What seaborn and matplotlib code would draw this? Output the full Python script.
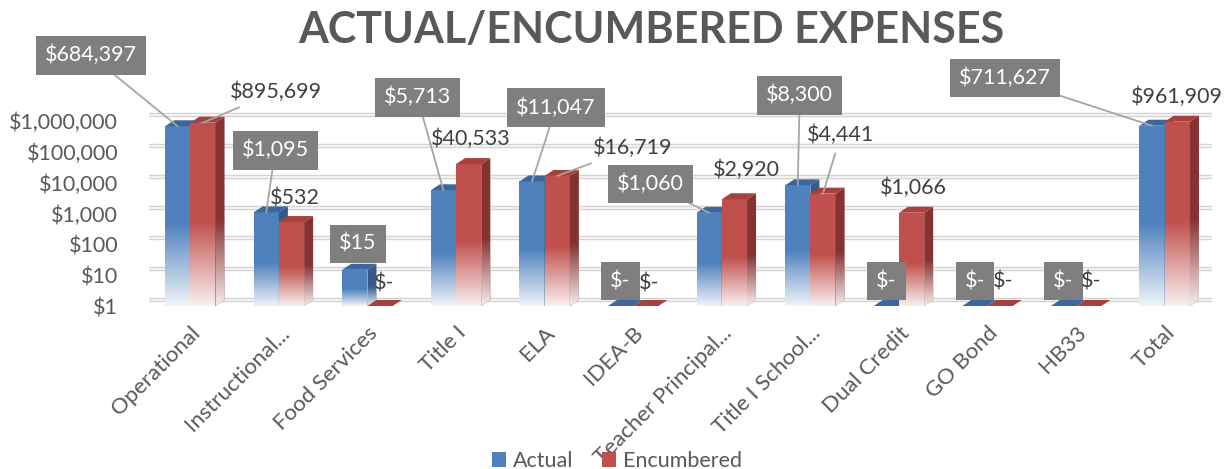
import numpy as np
import pandas as pd
import matplotlib
matplotlib.use("Agg")
import matplotlib.pyplot as plt
import seaborn as sns
from matplotlib.patches import Polygon, Patch
from matplotlib.transforms import IdentityTransform, offset_copy
import matplotlib.patheffects as pe

# ---------------- data ----------------
categories = ["Operational", "Instructional...", "Food Services", "Title I", "ELA", "IDEA-B",
              "Teacher Principal...", "Title I School...", "Dual Credit", "GO Bond", "HB33", "Total"]
series = ["Actual", "Encumbered"]
actual = [684397, 1095, 15, 5713, 11047, 0, 1060, 8300, 0, 0, 0, 711627]
encumbered = [895699, 532, 0, 40533, 16719, 0, 2920, 4441, 1066, 0, 0, 961909]
y_ticks = [1, 10, 100, 1000, 10000, 100000, 1000000]
y_tick_labels = ["$1", "$10", "$100", "$1,000", "$10,000", "$100,000", "$1,000,000"]
title = "ACTUAL/ENCUMBERED EXPENSES"

# ---------------- layout / style ----------------
blue, red = "#4F81BD", "#C0504D"
blue_top, red_top = "#3B679C", "#A8413E"
blue_side, red_side = "#34598A", "#853230"
text_grey = "#595959"
label_dark = "#404040"
box_grey = "#7F7F7F"
leader_col = "#A6A6A6"
DX, DY = 9, 6  # 3-D depth in pixels

# label offsets from bar top (pixels, x right / y up) and leader-line flags
actual_offsets = [(-87, 71), (9, 62), (3, 26), (-26, 93), (24, 74), (0, 25),
                  (-59, 29), (2, 90), (0, 25), (0, 25), (0, 25), (-147, 48)]
actual_leader = [True, True, False, True, True, False, True, True, False, False, False, True]
enc_offsets = [(73, 31), (3, 24), (4, 23), (2, 25), (75, 28), (3, 23),
               (12, 29), (18, 59), (2, 25), (3, 25), (2, 25), (0, 25)]
enc_leader = [True, False, False, False, True, False, False, True, False, False, False, False]

sns.set_theme(style="white")
plt.rcParams["font.family"] = ["Lato", "DejaVu Sans"]

W, H, DPI = 1230, 469, 100
fig = plt.figure(figsize=(W / DPI, H / DPI), dpi=DPI)
ax_left, ax_right, ax_top, ax_bottom = 146, 1209, 40, 306
ax = fig.add_axes([ax_left / W, 1 - ax_bottom / H, (ax_right - ax_left) / W, (ax_bottom - ax_top) / H])

df = pd.DataFrame({
    "category": categories * 2,
    "series": [series[0]] * len(categories) + [series[1]] * len(categories),
    "value": actual + encumbered,
})

sns.barplot(data=df, x="category", y="value", hue="series", order=categories,
            hue_order=series, palette=[blue, red], width=0.57, errorbar=None,
            saturation=1, legend=False, ax=ax, linewidth=0)

ax.set_yscale("log")
decades = (ax_bottom - ax_top) / 30.8
ylim = (1, 10 ** decades)
xlim = (-0.5, len(categories) - 0.5)
ax.set_ylim(*ylim)
ax.set_xlim(*xlim)
ax.minorticks_off()

for s in ax.spines.values():
    s.set_visible(False)

# gridlines on back wall (offset by depth)
grid_tr = offset_copy(ax.get_yaxis_transform(), fig=fig, x=DX * 0.3, y=DY, units="dots")
for t in y_ticks:
    ax.plot([0.0, 1.0], [t, t], transform=grid_tr, color="#D4D4D4", lw=3.2, zorder=0.5,
            solid_capstyle="butt", clip_on=False,
            path_effects=[pe.Stroke(linewidth=3.2, foreground="#D4D4D4"),
                          pe.Stroke(linewidth=1.2, foreground="#F7F7F7")])

ax.set_yticks(y_ticks, y_tick_labels)
ax.tick_params(axis="y", length=0, pad=20, labelsize=15.5, labelcolor=text_grey)
ax.set_xticks(range(len(categories)), categories)
ax.tick_params(axis="x", length=0, pad=12, labelsize=16, labelcolor=text_grey)
for lab in ax.get_xticklabels():
    lab.set_rotation(45)
    lab.set_ha("right")
    lab.set_va("top")
    lab.set_rotation_mode("anchor")
ax.set_xlabel("")
ax.set_ylabel("")


def fade(clip_patch, x0, x1, y0, y1, z, start=0.46, strength=0.92):
    inv = ax.transAxes.inverted()
    a0 = inv.transform((x0, y0))
    a1 = inv.transform((x1, y1))
    n = 256
    f = np.linspace(0, 1, n)
    alpha = np.clip(1 - f / start, 0, 1) * strength
    img = np.ones((n, 1, 4))
    img[:, 0, 3] = alpha
    im = ax.imshow(img, extent=(a0[0], a1[0], a0[1], a1[1]), transform=ax.transAxes,
                   origin="lower", aspect="auto", interpolation="bilinear", zorder=z)
    im.set_clip_path(clip_patch)


bar_tops = {}
for si, (cont, top_c, side_c) in enumerate(zip(ax.containers, [blue_top, red_top], [blue_side, red_side])):
    base_z = 2.0 + si * 0.5
    for ci, p in enumerate(cont.patches):
        p.set_zorder(base_z)
        x0 = p.get_x()
        w = p.get_width()
        v = p.get_height()
        top = max(v, 1)
        X0, Yb = ax.transData.transform((x0, 1))
        X1, Yt = ax.transData.transform((x0 + w, top))
        bar_tops[(si, ci)] = (x0 + w / 2, top)
        if Yt > Yb + 0.5:
            fade(p, X0, X1, Yb, Yt, base_z + 0.05)
            side = Polygon([(X1, Yb), (X1, Yt), (X1 + DX, Yt + DY), (X1 + DX, Yb + DY)],
                           closed=True, facecolor=side_c, edgecolor="none",
                           transform=IdentityTransform(), zorder=base_z + 0.1)
            ax.add_patch(side)
            fade(side, X1, X1 + DX, Yb, Yt + DY, base_z + 0.15)
        topf = Polygon([(X0, Yt), (X1, Yt), (X1 + DX, Yt + DY), (X0 + DX, Yt + DY)],
                       closed=True, facecolor=top_c, edgecolor="none",
                       transform=IdentityTransform(), zorder=base_z + 0.2)
        ax.add_patch(topf)

ax.set_ylim(*ylim)
ax.set_xlim(*xlim)


def money(v):
    return "$-" if v == 0 else "${:,.0f}".format(v)


for ci in range(len(categories)):
    # Actual: grey box, white text
    x, top = bar_tops[(0, ci)]
    ax.annotate(money(actual[ci]), xy=(x, top), xytext=actual_offsets[ci], textcoords="offset pixels",
                ha="center", va="center", fontsize=15.5, color="white", zorder=6,
                bbox=dict(boxstyle="square,pad=0.42", facecolor=box_grey, edgecolor="none"),
                arrowprops=(dict(arrowstyle="-", color=leader_col, lw=1.3, shrinkA=0, shrinkB=0)
                            if actual_leader[ci] else None),
                annotation_clip=False)
    # Encumbered: plain text
    x, top = bar_tops[(1, ci)]
    ax.annotate(money(encumbered[ci]), xy=(x, top), xytext=enc_offsets[ci], textcoords="offset pixels",
                ha="center", va="center", fontsize=15.5, color=label_dark, zorder=6,
                arrowprops=(dict(arrowstyle="-", color=leader_col, lw=1.3, shrinkA=4, shrinkB=0)
                            if enc_leader[ci] else None),
                annotation_clip=False)

fig.text(651 / W, 1 - 30 / H, title, ha="center", va="center", fontsize=31, fontweight="bold",
         color=text_grey)

handles = [Patch(facecolor=blue, edgecolor="none"), Patch(facecolor=red, edgecolor="none")]
fig.legend(handles, series, loc="center", bbox_to_anchor=(617 / W, (H - 461) / H), ncol=2,
           frameon=False, fontsize=15.5, handlelength=0.65, handleheight=0.65,
           handletextpad=0.35, columnspacing=1.3, labelcolor=text_grey)

fig.savefig("out.png", dpi=DPI)
